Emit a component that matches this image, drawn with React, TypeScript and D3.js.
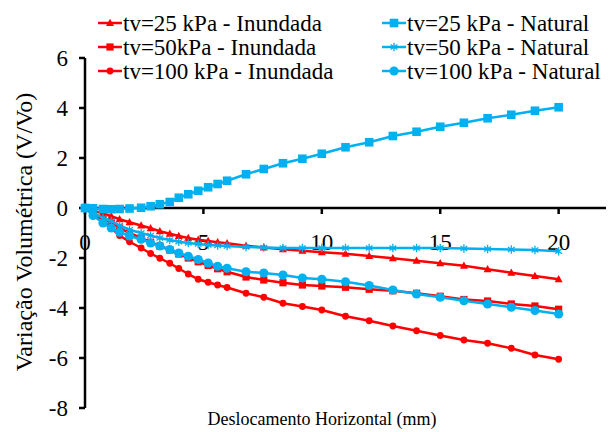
import React from "react";
import * as d3 from "d3";

const MARGIN = { LEFT: 85, RIGHT: 6, TOP: 58, BOTTOM: 24 };
const WIDTH = 612 - MARGIN.LEFT - MARGIN.RIGHT;
const HEIGHT = 432 - MARGIN.TOP - MARGIN.BOTTOM;

const RED = "#FF0000";
const BLUE = "#00B0F0";
const TXT = { fontFamily: "Liberation Serif", fontSize: "23px" };

// deslocamento horizontal (mm), shared by all series
const deslocamento = [
  0, 0.34, 0.76, 1.11, 1.46, 1.88, 2.37, 2.77, 3.16, 3.58, 3.96, 4.36, 4.78, 5.2, 5.6, 6.0,
  6.8, 7.55, 8.36, 9.18, 10, 11, 12, 13, 14, 15, 16, 17, 18, 19, 20,
];

const inund25 = [
  0, -0.1, -0.22, -0.33, -0.45, -0.57, -0.7, -0.81, -0.93, -1.03, -1.12, -1.2, -1.27, -1.32, -1.37, -1.41,
  -1.51, -1.58, -1.65, -1.71, -1.77, -1.83, -1.92, -2.01, -2.11, -2.21, -2.31, -2.45, -2.59, -2.72, -2.85,
];
const inund50 = [
  0, -0.2, -0.4, -0.6, -0.8, -1.0, -1.2, -1.37, -1.52, -1.68, -1.84, -2.0, -2.15, -2.3, -2.43, -2.55,
  -2.76, -2.88, -2.99, -3.08, -3.12, -3.17, -3.25, -3.31, -3.41, -3.53, -3.66, -3.72, -3.84, -3.92, -4.05,
];
const inund100 = [
  0, -0.25, -0.5, -0.8, -1.1, -1.35, -1.6, -1.82, -2.01, -2.21, -2.42, -2.64, -2.85, -2.97, -3.08, -3.18,
  -3.41, -3.57, -3.81, -3.94, -4.08, -4.33, -4.51, -4.72, -4.91, -5.1, -5.28, -5.41, -5.61, -5.88, -6.05,
];
const nat25 = [
  0, -0.01, -0.04, -0.05, -0.04, -0.02, 0.01, 0.07, 0.15, 0.24, 0.41, 0.55, 0.69, 0.83, 0.96, 1.09,
  1.35, 1.56, 1.79, 1.97, 2.17, 2.43, 2.63, 2.88, 3.05, 3.25, 3.41, 3.59, 3.73, 3.89, 4.03,
];
const nat50 = [
  0, -0.2, -0.4, -0.52, -0.7, -0.87, -1.0, -1.1, -1.2, -1.28, -1.35, -1.4, -1.44, -1.48, -1.5, -1.52,
  -1.56, -1.58, -1.6, -1.6, -1.6, -1.6, -1.6, -1.6, -1.6, -1.6, -1.62, -1.64, -1.66, -1.68, -1.73,
];
const nat100 = [
  0, -0.3, -0.6, -0.8, -0.97, -1.12, -1.25, -1.4, -1.52, -1.66, -1.8, -1.93, -2.06, -2.2, -2.33, -2.41,
  -2.55, -2.6, -2.68, -2.8, -2.85, -2.95, -3.1, -3.28, -3.44, -3.57, -3.71, -3.84, -3.97, -4.1, -4.24,
];

const xTicks = [0, 5, 10, 15, 20];
const yTicks = [-8, -6, -4, -2, 0, 2, 4, 6];

const series = [
  { label: "tv=25 kPa - Inundada", values: inund25, color: RED, marker: "triangle" },
  { label: "tv=50kPa - Inundada", values: inund50, color: RED, marker: "square" },
  { label: "tv=100 kPa - Inundada", values: inund100, color: RED, marker: "circle" },
  { label: "tv=25 kPa - Natural", values: nat25, color: BLUE, marker: "bigsquare" },
  { label: "tv=50 kPa - Natural", values: nat50, color: BLUE, marker: "star" },
  { label: "tv=100 kPa - Natural", values: nat100, color: BLUE, marker: "bigcircle" },
];

const xScale = d3.scaleLinear().domain([0, 22]).range([0, WIDTH]);
const yScale = d3.scaleLinear().domain([-8, 6]).range([HEIGHT, 0]);

function Marker({ kind, color, x, y }: { kind: string; color: string; x: number; y: number }) {
  const t = `translate(${x},${y})`;
  if (kind === "triangle") return <path transform={t} d="M0,-4.2L4,3L-4,3Z" fill={color} />;
  if (kind === "square") return <rect transform={t} x={-3.6} y={-3.6} width={7.2} height={7.2} fill={color} />;
  if (kind === "circle") return <circle transform={t} r={3.4} fill={color} />;
  if (kind === "bigsquare") return <rect transform={t} x={-4.3} y={-4.3} width={8.6} height={8.6} fill={color} />;
  if (kind === "bigcircle") return <circle transform={t} r={4.6} fill={color} />;
  const s = 4.2;
  return (
    <path
      transform={t}
      d={`M0,${-s}L0,${s}M${-s * 0.8},${-s * 0.6}L${s * 0.8},${s * 0.6}M${-s * 0.8},${s * 0.6}L${s * 0.8},${-s * 0.6}`}
      stroke={color}
      strokeWidth={1.3}
      fill="none"
    />
  );
}

export default function App() {
  const line = d3
    .line<number>()
    .x((_, i) => xScale(deslocamento[i]))
    .y((d) => yScale(d));
  const y0 = yScale(0);

  return (
    <svg width={612} height={432} style={{ position: "absolute", left: 0, top: 0, background: "#fff" }}>
      <g transform={`translate(${MARGIN.LEFT}, ${MARGIN.TOP})`}>
        {/* y axis */}
        <line x1={0} x2={0} y1={0} y2={HEIGHT} stroke="#000" strokeWidth={2.5} />
        {yTicks.map((t) => (
          <g key={t} transform={`translate(0,${yScale(t)})`}>
            <line x1={-6} x2={0} stroke="#000" strokeWidth={2.5} />
            <text x={-17} dy="0.34em" textAnchor="end" style={TXT}>
              {t}
            </text>
          </g>
        ))}
        {/* x axis at y=0 */}
        <line x1={0} x2={WIDTH} y1={y0} y2={y0} stroke="#000" strokeWidth={2.5} />
        {xTicks.map((t) => (
          <g key={t} transform={`translate(${xScale(t)},${y0})`}>
            <line y1={0} y2={6} stroke="#000" strokeWidth={2.5} />
            <text y={42} textAnchor="middle" style={TXT}>
              {t}
            </text>
          </g>
        ))}
        {series.map((s) => (
          <g key={s.label}>
            <path d={line(s.values) || ""} fill="none" stroke={s.color} strokeWidth={2.5} />
            {s.values.map((v, i) => (
              <Marker key={i} kind={s.marker} color={s.color} x={xScale(deslocamento[i])} y={yScale(v)} />
            ))}
          </g>
        ))}
      </g>

      <text transform="translate(32, 232) rotate(-90)" textAnchor="middle" style={{ ...TXT, fontSize: "24px" }}>
        Variação Volumétrica (V/Vo)
      </text>
      <text x={322} y={425} textAnchor="middle" style={{ ...TXT, fontSize: "18px" }}>
        Deslocamento Horizontal (mm)
      </text>

      {series.map((s, i) => {
        const lx = i < 3 ? 98 : 382;
        const ly = 23 + (i % 3) * 24;
        return (
          <g key={s.label} transform={`translate(${lx},${ly})`}>
            <line x1={0} x2={24} stroke={s.color} strokeWidth={2.5} />
            <Marker kind={s.marker} color={s.color} x={12} y={0} />
            <text x={25} y={7.5} style={TXT}>
              {s.label}
            </text>
          </g>
        );
      })}
    </svg>
  );
}
